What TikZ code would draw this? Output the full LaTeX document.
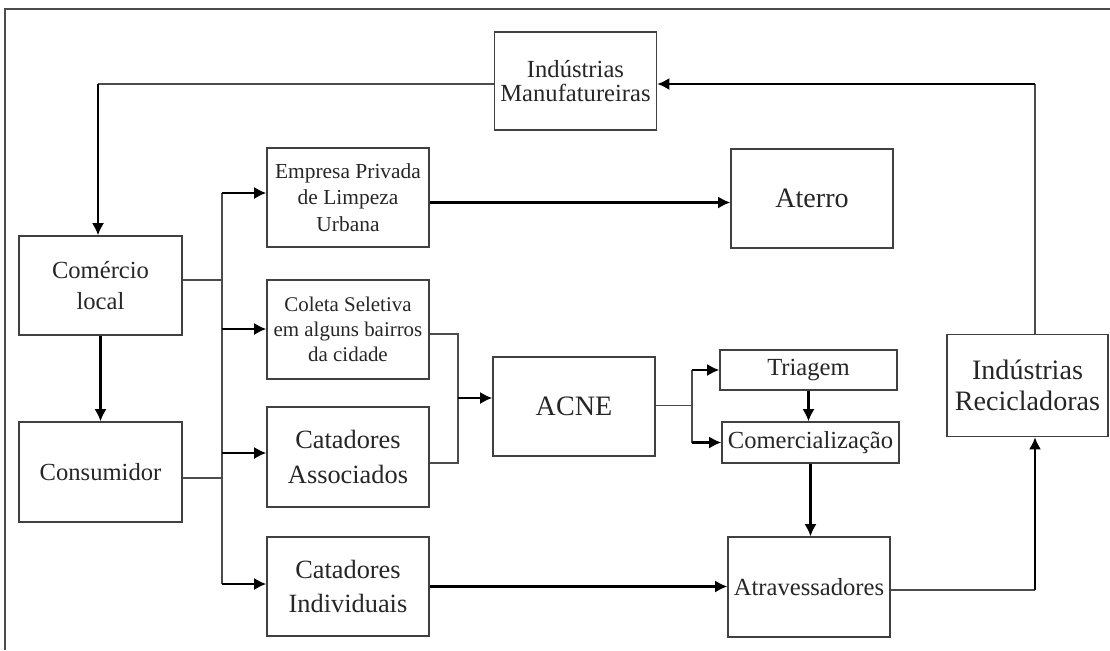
\documentclass[tikz,border=0pt]{standalone}
\usepackage{fontspec}
\setmainfont{Liberation Serif}
\usetikzlibrary{arrows.meta}
\tikzset{
  box/.style={draw=black!75, line width=0.8pt, align=center, inner sep=1pt, text=black!85},
  link/.style={draw=black!70, line width=0.8pt},
  flow/.style={->, >={Latex[length=7pt,width=7pt]}, line width=1.3pt},
  fbig/.style={font=\fontsize{16}{19}\selectfont},
  fmid/.style={font=\fontsize{15}{19.5}\selectfont},
  frec/.style={font=\fontsize{16}{17.6}\selectfont},
  fnorm/.style={font=\fontsize{14}{17.6}\selectfont},
  fmanuf/.style={font=\fontsize{14}{13.6}\selectfont},
  fsmall/.style={font=\fontsize{12.2}{15.2}\selectfont},
  fcoleta/.style={font=\fontsize{11.9}{14.3}\selectfont},
}
\begin{document}
\begin{tikzpicture}[x=0.02cm, y=-0.02cm]
\useasboundingbox (0,0) rectangle (1110,650);
% moldura
\draw[link] (5,650) -- (5,9) -- (1110,9);
% caixas
\node[box, fmanuf, minimum width=3.24cm, minimum height=1.96cm] (manuf) at (575.5,81) {Indústrias\\Manufatureiras};
\node[box, fnorm, minimum width=3.26cm, minimum height=1.98cm] (comercio) at (100.5,285.5) {Comércio\\local};
\node[box, fnorm, minimum width=3.26cm, minimum height=2cm] (consumidor) at (100.5,472) {Consumidor};
\node[box, fsmall, minimum width=3.24cm, minimum height=1.98cm] (empresa) at (348,197.5) {Empresa Privada\\de Limpeza\\Urbana};
\node[box, fcoleta, minimum width=3.24cm, minimum height=1.98cm] (coleta) at (348,329.5) {Coleta Seletiva\\em alguns bairros\\da cidade};
\node[box, fmid, minimum width=3.24cm, minimum height=2cm] (catassoc) at (348,457) {Catadores\\Associados};
\node[box, fmid, minimum width=3.24cm, minimum height=1.98cm] (catind) at (348,586.5) {Catadores\\Individuais};
\node[box, fbig, minimum width=3.24cm, minimum height=1.98cm] (aterro) at (812,198.5) {Aterro};
\node[box, fbig, minimum width=3.24cm, minimum height=1.98cm] (acne) at (574,406.5) {ACNE};
\node[box, fnorm, minimum width=3.54cm, minimum height=0.8cm] (triagem) at (808.5,370) {Triagem};
\node[box, fnorm, minimum width=3.54cm, minimum height=0.82cm] (comerc) at (810.5,442.5) {Comercialização};
\node[box, fnorm, minimum width=3.24cm, minimum height=2cm] (atrav) at (809,587) {Atravessadores};
\node[box, frec, minimum width=3.22cm, minimum height=2.04cm] (recic) at (1027.5,385.5) {Indústrias\\Recicladoras};
% pontos de ligacao
\coordinate (rup) at (1035,84);
\coordinate (rdown) at (1035,590);
\coordinate (mleft) at (98,84);
\coordinate (busc) at (222,280);
\coordinate (busk) at (222,478);
\coordinate (bustop) at (222,193);
\coordinate (busb) at (222,329);
\coordinate (busa) at (222,453);
\coordinate (busbot) at (222,584);
\coordinate (merge) at (458,398);
\coordinate (split) at (692,405.5);
% ligacoes
\draw[link] (recic.north -| rup) -- (rup);
\draw[flow] (rup) -- (rup -| manuf.east);
\draw[link] (manuf.west |- mleft) -- (mleft);
\draw[flow] (mleft) -- (mleft |- comercio.north);
\draw[flow] (comercio.south) -- (consumidor.north);
\draw[link] (comercio.east |- busc) -- (busc);
\draw[link] (consumidor.east |- busk) -- (busk);
\draw[link] (bustop) -- (busbot);
\draw[flow] (bustop) -- (bustop -| empresa.west);
\draw[flow] (busb) -- (busb -| coleta.west);
\draw[flow] (busa) -- (busa -| catassoc.west);
\draw[flow] (busbot) -- (busbot -| catind.west);
\draw[flow] ([yshift=-0.1cm]empresa.east) -- ([yshift=-0.1cm]empresa.east -| aterro.west);
\draw[link] ([yshift=-0.09cm]coleta.east) -| (merge);
\draw[link] ([yshift=-0.12cm]catassoc.east) -| (merge);
\draw[flow] (merge) -- (merge -| acne.west);
\draw[link] (acne.east |- split) -- (split);
\draw[link] (split |- triagem.west) -- (split |- comerc.west);
\draw[flow] (split |- triagem.west) -- (triagem.west);
\draw[flow] (split |- comerc.west) -- (comerc.west);
\draw[flow] (triagem.south) -- (triagem.south |- comerc.north);
\draw[flow] (comerc.south) -- (comerc.south |- atrav.north);
\draw[flow] (catind.east) -- (catind.east -| atrav.west);
\draw[link] (atrav.east |- rdown) -- (rdown);
\draw[flow] (rdown) -- (rdown |- recic.south);
\end{tikzpicture}
\end{document}
